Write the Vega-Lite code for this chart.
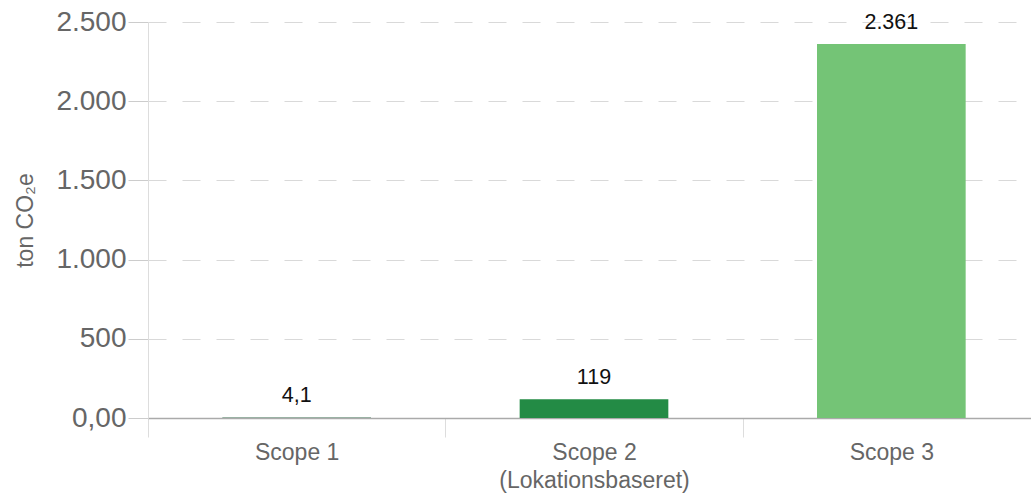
{
  "$schema": "https://vega.github.io/schema/vega-lite/v6.json",
  "width": 892,
  "height": 396,
  "autosize": {"type": "none"},
  "padding": {"left": 148, "top": 22, "right": 0, "bottom": 75},
  "background": "white",
  "config": {
    "locale": {"number": {"decimal": ",", "thousands": ".", "grouping": [3], "currency": ["", " kr."]}},
    "view": {"stroke": null},
    "font": "Liberation Sans"
  },
  "data": {
    "values": [
      {"scope": "Scope 1", "value": 4.1},
      {"scope": "Scope 2 (Lokationsbaseret)", "value": 119},
      {"scope": "Scope 3", "value": 2361}
    ]
  },
  "encoding": {
    "x": {
      "field": "scope",
      "type": "nominal",
      "sort": null,
      "scale": {"paddingInner": 0, "paddingOuter": 0},
      "axis": {
        "title": null,
        "labelAngle": 0,
        "labelFontSize": 23,
        "labelColor": "#666666",
        "labelPadding": 4,
        "labelLineHeight": 28,
        "labelLimit": 0,
        "labelExpr": "datum.label == 'Scope 2 (Lokationsbaseret)' ? ['Scope 2', '(Lokationsbaseret)'] : datum.label",
        "tickBand": "extent",
        "tickSize": 19,
        "tickColor": "#dddddd",
        "domainColor": "#aaaaaa",
        "domainWidth": 1.5,
        "grid": false
      }
    },
    "y": {
      "field": "value",
      "type": "quantitative",
      "scale": {"domain": [0, 2500], "nice": false},
      "axis": {
        "title": "ton CO₂e",
        "titleFontSize": 23,
        "titleFontWeight": "normal",
        "titleColor": "#666666",
        "titlePadding": 18,
        "values": [0, 500, 1000, 1500, 2000, 2500],
        "labelExpr": "datum.value == 0 ? '0,00' : format(datum.value, ',')",
        "labelFontSize": 28,
        "labelColor": "#666666",
        "labelPadding": 2,
        "tickSize": 20,
        "tickColor": "#cccccc",
        "domainColor": "#dddddd",
        "gridColor": "#d9d9d9",
        "gridDash": [18, 16],
        "gridWidth": 1.2
      }
    }
  },
  "layer": [
    {
      "mark": {"type": "bar", "width": {"band": 0.5}},
      "encoding": {
        "color": {
          "field": "scope",
          "type": "nominal",
          "sort": null,
          "scale": {"range": ["#7f9f8c", "#238b45", "#74c476"]},
          "legend": null
        }
      }
    },
    {
      "mark": {"type": "text", "baseline": "bottom", "dy": -10, "fontSize": 21.5, "color": "#111111"},
      "encoding": {
        "text": {"field": "value", "type": "quantitative", "format": ","}
      }
    },
    {
      "mark": {"type": "rule", "color": "#aaaaaa", "strokeWidth": 1.5},
      "encoding": {"y": {"datum": 0}}
    }
  ]
}
